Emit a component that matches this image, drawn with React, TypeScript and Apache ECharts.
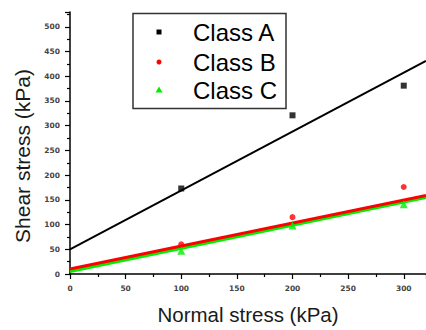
import React, { useEffect, useRef } from "react";
import * as echarts from "echarts";

const classAPoints: [number, number][] = [[100, 173], [200, 321], [300, 381]];
const classBPoints: [number, number][] = [[100, 60], [200, 115], [300, 176]];
const classCPoints: [number, number][] = [[100, 47], [200, 98], [300, 141]];

const fitA: [number, number][] = [[0, 50], [320, 431]];
const fitB: [number, number][] = [[0, 10], [320, 159]];
const fitC: [number, number][] = [[0, 5], [320, 155]];

const legendNames = ["Class A", "Class B", "Class C"];

const FONT = "Liberation Sans, Arial, sans-serif";

export default function App() {
  const ref = useRef<HTMLDivElement>(null);
  useEffect(() => {
    if (!ref.current) return;
    const chart = echarts.init(ref.current, null, { renderer: "svg" });
    const axisCommon = {
      axisLine: { show: true, onZero: false, lineStyle: { color: "#000", width: 1.5 } },
      axisTick: { show: true, inside: false, length: 5, lineStyle: { color: "#000", width: 1.2 } },
      minorTick: { show: true, splitNumber: 2, length: 3, lineStyle: { color: "#000", width: 1.2 } },
      splitLine: { show: false },
      minorSplitLine: { show: false },
    };
    const labelStyle = {
      fontFamily: "DejaVu Sans, sans-serif",
      fontSize: 7.5,
      fontWeight: "bold" as const,
      color: "#444",
    };
    const lx = 159;
    const tx = 193;
    const rows = [32, 62, 90];
    chart.setOption({
      animation: false,
      backgroundColor: "#fff",
      grid: { left: 70, right: 0, top: 12, bottom: 46, containLabel: false },
      xAxis: {
        type: "value",
        min: 0,
        max: 320,
        interval: 50,
        name: "Normal stress (kPa)",
        nameLocation: "middle",
        nameGap: 30,
        nameTextStyle: { fontFamily: FONT, fontSize: 20.5, color: "#1a1a1a" },
        ...axisCommon,
        axisLabel: { ...labelStyle, margin: 10, showMaxLabel: false },
      },
      yAxis: {
        type: "value",
        min: 0,
        max: 530,
        interval: 50,
        name: "Shear stress (kPa)",
        nameLocation: "middle",
        nameGap: 29,
        nameTextStyle: { fontFamily: FONT, fontSize: 21, color: "#1a1a1a", padding: [0, 26, 0, 0] },
        ...axisCommon,
        axisLabel: { ...labelStyle, margin: 10, showMaxLabel: false },
      },
      series: [
        {
          type: "line",
          data: fitC,
          symbol: "none",
          lineStyle: { color: "#00ee00", width: 3 },
          z: 2,
        },
        {
          type: "line",
          data: fitB,
          symbol: "none",
          lineStyle: { color: "#ff0000", width: 3 },
          z: 3,
        },
        {
          type: "line",
          data: fitA,
          symbol: "none",
          lineStyle: { color: "#000", width: 2 },
          z: 3,
        },
        {
          name: legendNames[0],
          type: "scatter",
          data: classAPoints,
          symbol: "rect",
          symbolSize: 6,
          itemStyle: { color: "#000" },
          z: 5,
        },
        {
          name: legendNames[1],
          type: "scatter",
          data: classBPoints,
          symbol: "circle",
          symbolSize: 6,
          itemStyle: { color: "#ff0000" },
          z: 5,
        },
        {
          name: legendNames[2],
          type: "scatter",
          data: classCPoints,
          symbol: "triangle",
          symbolSize: 8,
          itemStyle: { color: "#00ee00" },
          z: 5,
        },
      ],
      graphic: [
        {
          type: "rect",
          shape: { x: 133, y: 13.5, width: 153, height: 95 },
          style: { fill: "#fff", stroke: "#333", lineWidth: 1.5 },
          z: 10,
        },
        {
          type: "rect",
          shape: { x: lx - 2.5, y: rows[0] - 2.5, width: 5, height: 5 },
          style: { fill: "#000" },
          z: 11,
        },
        {
          type: "circle",
          shape: { cx: lx, cy: rows[1], r: 2.5 },
          style: { fill: "#ff0000" },
          z: 11,
        },
        {
          type: "polygon",
          shape: { points: [[lx, rows[2] - 3.5], [lx + 3.5, rows[2] + 2.5], [lx - 3.5, rows[2] + 2.5]] },
          style: { fill: "#00ee00" },
          z: 11,
        },
        ...legendNames.map((n, i) => ({
          type: "text",
          x: tx,
          y: rows[i],
          style: {
            text: n,
            fontFamily: FONT,
            fontSize: 24,
            fill: "#000",
            verticalAlign: "middle",
            align: "left",
          },
          z: 11,
        })),
      ],
    });
    return () => chart.dispose();
  }, []);
  return <div ref={ref} style={{ width: 426, height: 330, position: "absolute", left: 0, top: 0 }} />;
}
